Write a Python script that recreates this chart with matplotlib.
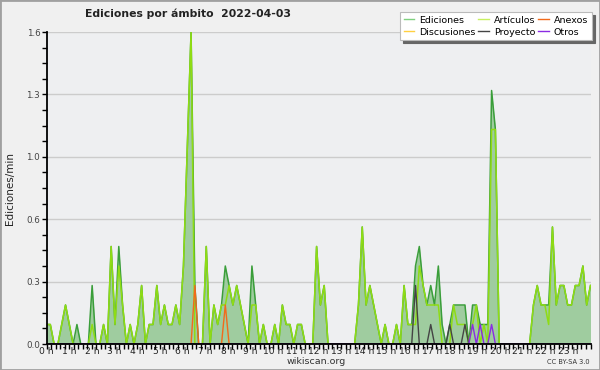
import numpy as np
import matplotlib
matplotlib.use('Agg')
import matplotlib.pyplot as plt
from matplotlib.lines import Line2D
from matplotlib.patches import Rectangle

# edits per minute, 10-minute bins over the day (144 values)
total = [
    0.1, 0.1, 0, 0, 0.1, 0.2, 0.1, 0, 0.1, 0, 0, 0,
    0.3, 0, 0, 0.1, 0, 0.5, 0.1, 0.5, 0.2, 0, 0.1, 0,
    0.1, 0.3, 0, 0.1, 0.1, 0.3, 0.1, 0.2, 0.1, 0.1, 0.2, 0.1,
    0.4, 1.0, 1.6, 0.3, 0, 0, 0.5, 0, 0.2, 0.1, 0.2, 0.4,
    0.3, 0.2, 0.3, 0.2, 0.1, 0, 0.4, 0.2, 0, 0.1, 0, 0,
    0.1, 0, 0.2, 0.1, 0.1, 0, 0.1, 0.1, 0, 0, 0, 0.5,
    0.2, 0.3, 0, 0, 0, 0, 0, 0, 0, 0, 0.2, 0.6,
    0.2, 0.3, 0.2, 0.1, 0, 0.1, 0, 0, 0.1, 0, 0.3, 0.1,
    0.1, 0.4, 0.5, 0.3, 0.2, 0.3, 0.2, 0.4, 0.1, 0, 0.1, 0.2,
    0.2, 0.2, 0.2, 0, 0.2, 0.2, 0.1, 0.1, 0.1, 1.3, 1.1, 0,
    0, 0, 0, 0, 0, 0, 0, 0, 0.2, 0.3, 0.2, 0.2,
    0.2, 0.6, 0.2, 0.3, 0.3, 0.2, 0.2, 0.3, 0.3, 0.4, 0.2, 0.3,
]
articulos = [
    0.1, 0.1, 0, 0, 0.1, 0.2, 0.1, 0, 0, 0, 0, 0,
    0.1, 0, 0, 0.1, 0, 0.5, 0.1, 0.4, 0.2, 0, 0.1, 0,
    0.1, 0.3, 0, 0.1, 0.1, 0.3, 0.1, 0.2, 0.1, 0.1, 0.2, 0.1,
    0.4, 1.0, 1.6, 0, 0, 0, 0.5, 0, 0.2, 0.1, 0.2, 0.2,
    0.3, 0.2, 0.3, 0.2, 0.1, 0, 0.2, 0.2, 0, 0.1, 0, 0,
    0.1, 0, 0.2, 0.1, 0.1, 0, 0.1, 0.1, 0, 0, 0, 0.5,
    0.2, 0.3, 0, 0, 0, 0, 0, 0, 0, 0, 0.2, 0.6,
    0.2, 0.3, 0.2, 0.1, 0, 0.1, 0, 0, 0.1, 0, 0.3, 0.1,
    0.1, 0.1, 0.4, 0.3, 0.2, 0.2, 0.2, 0.2, 0, 0, 0, 0.2,
    0.1, 0.1, 0.1, 0, 0.1, 0.2, 0, 0.1, 0, 1.1, 1.1, 0,
    0, 0, 0, 0, 0, 0, 0, 0, 0.2, 0.3, 0.2, 0.2,
    0.1, 0.6, 0.2, 0.3, 0.3, 0.2, 0.2, 0.3, 0.3, 0.4, 0.2, 0.3,
]
n = len(total)
anexos = [0.0] * n
anexos[39] = 0.3
anexos[47] = 0.2
discusiones = [0.0] * n
proyecto = [0.0] * n
for k, v in [(97, 0.3), (101, 0.1), (106, 0.1), (110, 0.1)]:
    proyecto[k] = v
otros = [0.0] * n
for k in [112, 114, 117]:
    otros[k] = 0.1

y_ticks = [0, 0.32, 0.64, 0.96, 1.28, 1.6]
hour_labels = ['%d h' % h for h in range(24)]

hours = np.linspace(0, 24, n)

bg = '#f0f0f0'
fig = plt.figure(figsize=(6, 3.7), dpi=100, facecolor=bg)
ax = fig.add_axes([46.5 / 600, 1 - 344 / 370, 544 / 600, 312 / 370])
ax.set_facecolor('#eeeff1')

ax.fill_between(hours, total, color='#9fcc9f', lw=0, zorder=1)
ax.plot(hours, total, color='#3a9e3a', lw=1.1, zorder=3)
ax.plot(hours, articulos, color='#8fdc14', lw=1.1, zorder=4)
ax.plot(hours, discusiones, color='#ffd040', lw=1.0, zorder=4)
ax.plot(hours, anexos, color='#f26a1b', lw=1.0, zorder=5)
ax.plot(hours, proyecto, color='#444444', lw=1.0, zorder=5)
ax.plot(hours, otros, color='#8a2be2', lw=1.0, zorder=5)

ax.set_xlim(0, 24)
ax.set_ylim(0, 1.6)
ax.set_yticks(y_ticks)
ax.set_yticklabels(['%.1f' % v for v in y_ticks])
ax.set_yticks(np.arange(0, 1.61, 0.08), minor=True)
ax.set_xticks(range(24))
ax.set_xticklabels(hour_labels)
ax.set_xticks(np.arange(0, 24.01, 0.2), minor=True)
ax.grid(axis='y', which='major', color='#cccccc', lw=1)
ax.set_axisbelow(True)

for s in ['top', 'right']:
    ax.spines[s].set_visible(False)
for s in ['left', 'bottom']:
    ax.spines[s].set_color('black')
    ax.spines[s].set_linewidth(1.3)
    ax.spines[s].set_zorder(6)

ax.tick_params(which='both', direction='out', length=3.5, width=1, color='black',
               labelsize=6.3, labelcolor='#444444', pad=1)
ax.tick_params(axis='x', labelcolor='#222222', labelsize=6.6, pad=-1.5)

ax.set_ylabel('Ediciones/min', fontsize=7.5, color='#222222')
ax.yaxis.set_label_coords(-0.057, 0.5)

fig.text(85 / 600, 1 - 14 / 370, 'Ediciones por ámbito  2022-04-03', fontsize=7.8,
         fontweight='bold', color='#222222', va='center', ha='left')

handles = [
    Line2D([], [], color='#7fd07f', lw=1),
    Line2D([], [], color='#ffd040', lw=1),
    Line2D([], [], color='#c8f060', lw=1),
    Line2D([], [], color='#444444', lw=1),
    Line2D([], [], color='#f26a1b', lw=1),
    Line2D([], [], color='#8a2be2', lw=1),
]
labels = ['Ediciones', 'Discusiones', 'Artículos', 'Proyecto', 'Anexos', 'Otros']
leg = fig.legend(handles, labels, loc='upper right', bbox_to_anchor=(592 / 600, 1 - 12 / 370),
                 ncol=3, fontsize=6.8, frameon=True, fancybox=False, edgecolor='#bbbbbb',
                 handlelength=1.1, handletextpad=0.55, columnspacing=0.3, labelspacing=0.3,
                 borderpad=0.4, borderaxespad=0,
                 shadow={'facecolor': '#666666', 'edgecolor': '#666666', 'alpha': 1})
leg.get_frame().set_linewidth(0.8)

fig.text(316 / 600, 1 - 361.5 / 370, 'wikiscan.org', fontsize=6.8, color='#333333',
         ha='center', va='center')
fig.text(590 / 600, 1 - 362 / 370, 'CC BY-SA 3.0', fontsize=4.8, color='#333333',
         ha='right', va='center')

fig.add_artist(Rectangle((0, 0), 1, 1, transform=fig.transFigure, fill=False,
                         edgecolor='#a0a0a0', lw=2))

fig.savefig('out.png', dpi=100, facecolor=bg)
